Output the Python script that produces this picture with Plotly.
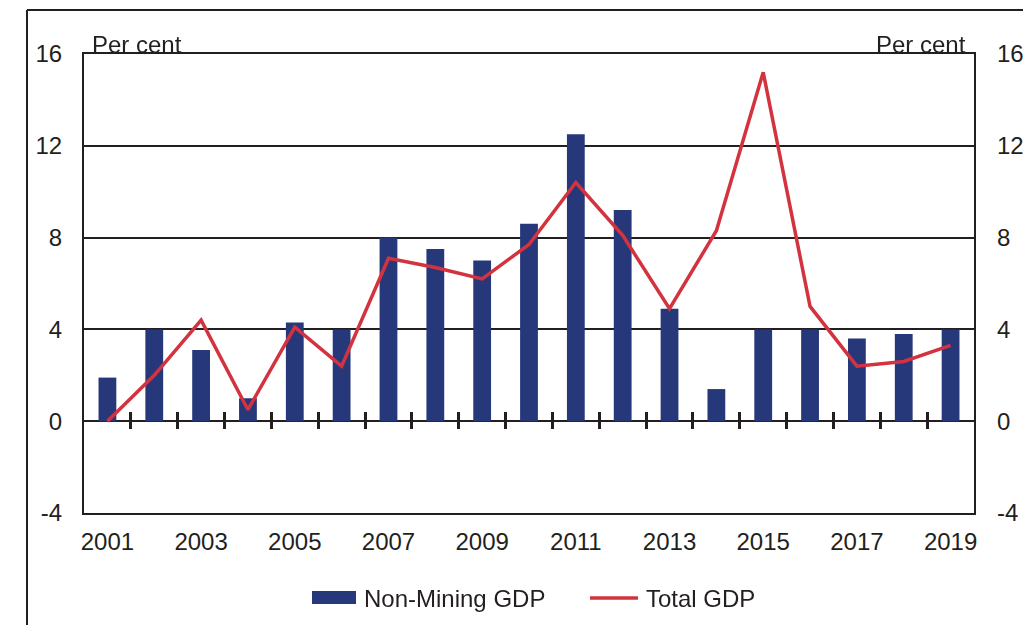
import plotly.graph_objects as go

# Annual growth, per cent
YEARS = list(range(2001, 2020))
NON_MINING_GDP = [1.9, 4.0, 3.1, 1.0, 4.3, 4.0, 8.0, 7.5, 7.0, 8.6,
                  12.5, 9.2, 4.9, 1.4, 4.0, 4.0, 3.6, 3.8, 4.0]
TOTAL_GDP = [0.0, 2.0, 4.4, 0.5, 4.1, 2.4, 7.1, 6.7, 6.2, 7.7,
             10.4, 8.1, 4.9, 8.3, 15.2, 5.0, 2.4, 2.6, 3.3]
Y_TICKS = [-4, 0, 4, 8, 12, 16]
Y_LABELS = [str(v) for v in Y_TICKS]   # plain hyphen, not the unicode minus
X_LABELS = YEARS[::2]

NAVY = "#27387a"
RED = "#d2333f"
INK = "#231f20"
FONT = "Liberation Sans, Arial, sans-serif"
FS = 24

W, H = 1023, 625
L, R, T, B = 84, 49, 54, 112
PW, PH = W - L - R, H - T - B

x_range = [YEARS[0] - 0.5, YEARS[-1] + 0.5]
y_range = [Y_TICKS[0], Y_TICKS[-1]]
zero_pos = (0 - y_range[0]) / (y_range[1] - y_range[0])
boundaries = [y + 0.5 for y in YEARS[:-1]]


def px_x(px):
    return (px - L) / PW


def px_y(py):
    return (H - B - py) / PH


fig = go.Figure()
fig.add_trace(go.Bar(
    x=YEARS, y=NON_MINING_GDP, name="Non-Mining GDP",
    marker=dict(color=NAVY, line=dict(width=0)), width=0.38,
))
fig.add_trace(go.Scatter(
    x=YEARS, y=TOTAL_GDP, name="Total GDP", mode="lines",
    line=dict(color=RED, width=3.5),
))
# invisible carriers so the right axis and the boundary tick axes are drawn
fig.add_trace(go.Scatter(x=YEARS, y=TOTAL_GDP, xaxis="x2", yaxis="y2", mode="markers",
                         opacity=0, showlegend=False, hoverinfo="skip"))
fig.add_trace(go.Scatter(x=YEARS, y=TOTAL_GDP, xaxis="x3", yaxis="y", mode="markers",
                         opacity=0, showlegend=False, hoverinfo="skip"))

tick_axis = dict(overlaying="x", range=x_range, anchor="free", position=zero_pos,
                 tickvals=boundaries, showticklabels=False, showline=False,
                 showgrid=False, zeroline=False, tickcolor=INK, tickwidth=3)

# legend drawn by hand: wide bar swatch and long line swatch as in the original
legend_y = px_y(598)
legend_shapes = [
    dict(type="rect", xref="paper", yref="paper", x0=px_x(312), x1=px_x(356),
         y0=px_y(604), y1=px_y(591), fillcolor=NAVY, line=dict(width=0)),
    dict(type="line", xref="paper", yref="paper", x0=px_x(590), x1=px_x(638),
         y0=legend_y, y1=legend_y, line=dict(color=RED, width=3.5)),
]
legend_texts = [
    dict(text="Non-Mining GDP", xref="paper", yref="paper", x=px_x(362),
         y=legend_y, xanchor="left", yanchor="middle", showarrow=False),
    dict(text="Total GDP", xref="paper", yref="paper", x=px_x(644),
         y=legend_y, xanchor="left", yanchor="middle", showarrow=False),
]

fig.update_layout(
    width=W, height=H, autosize=False,
    margin=dict(l=L, r=R, t=T, b=B, autoexpand=False),
    paper_bgcolor="white", plot_bgcolor="white",
    font=dict(family=FONT, size=FS, color=INK),
    showlegend=False,
    xaxis=dict(range=x_range, tickvals=X_LABELS, ticks="", showgrid=False,
               zeroline=False, showline=True, mirror=True, linecolor=INK,
               linewidth=2, ticklabelstandoff=6),
    xaxis2=dict(tick_axis, ticks="inside", ticklen=9),
    xaxis3=dict(tick_axis, ticks="outside", ticklen=7),
    yaxis=dict(range=y_range, tickvals=Y_TICKS, ticktext=Y_LABELS, ticks="",
               showgrid=True, gridcolor=INK, gridwidth=2, zeroline=True,
               zerolinecolor=INK, zerolinewidth=2, showline=True, mirror=True,
               linecolor=INK, linewidth=2, ticklabelstandoff=15),
    yaxis2=dict(range=y_range, tickvals=Y_TICKS, ticktext=Y_LABELS, overlaying="y",
                side="right", ticks="", showgrid=False, zeroline=False,
                showline=False, ticklabelstandoff=22),
    annotations=[
        dict(text="Per cent", xref="paper", yref="paper", x=0, y=1,
             xanchor="left", yanchor="bottom", xshift=6, yshift=-6,
             showarrow=False),
        dict(text="Per cent", xref="paper", yref="paper", x=1, y=1,
             xanchor="right", yanchor="bottom", xshift=-6, yshift=-6,
             showarrow=False),
    ] + legend_texts,
    shapes=[
        dict(type="line", xref="paper", yref="paper", x0=px_x(27), x1=px_x(W + 5),
             y0=px_y(10), y1=px_y(10), line=dict(color=INK, width=2)),
        dict(type="line", xref="paper", yref="paper", x0=px_x(27), x1=px_x(27),
             y0=px_y(10), y1=px_y(H + 5), line=dict(color=INK, width=2)),
    ] + legend_shapes,
)

fig.write_html("out.html",
               config={"displayModeBar": False, "responsive": False},
               post_script="document.body.style.margin='0';document.body.style.overflow='hidden';")
